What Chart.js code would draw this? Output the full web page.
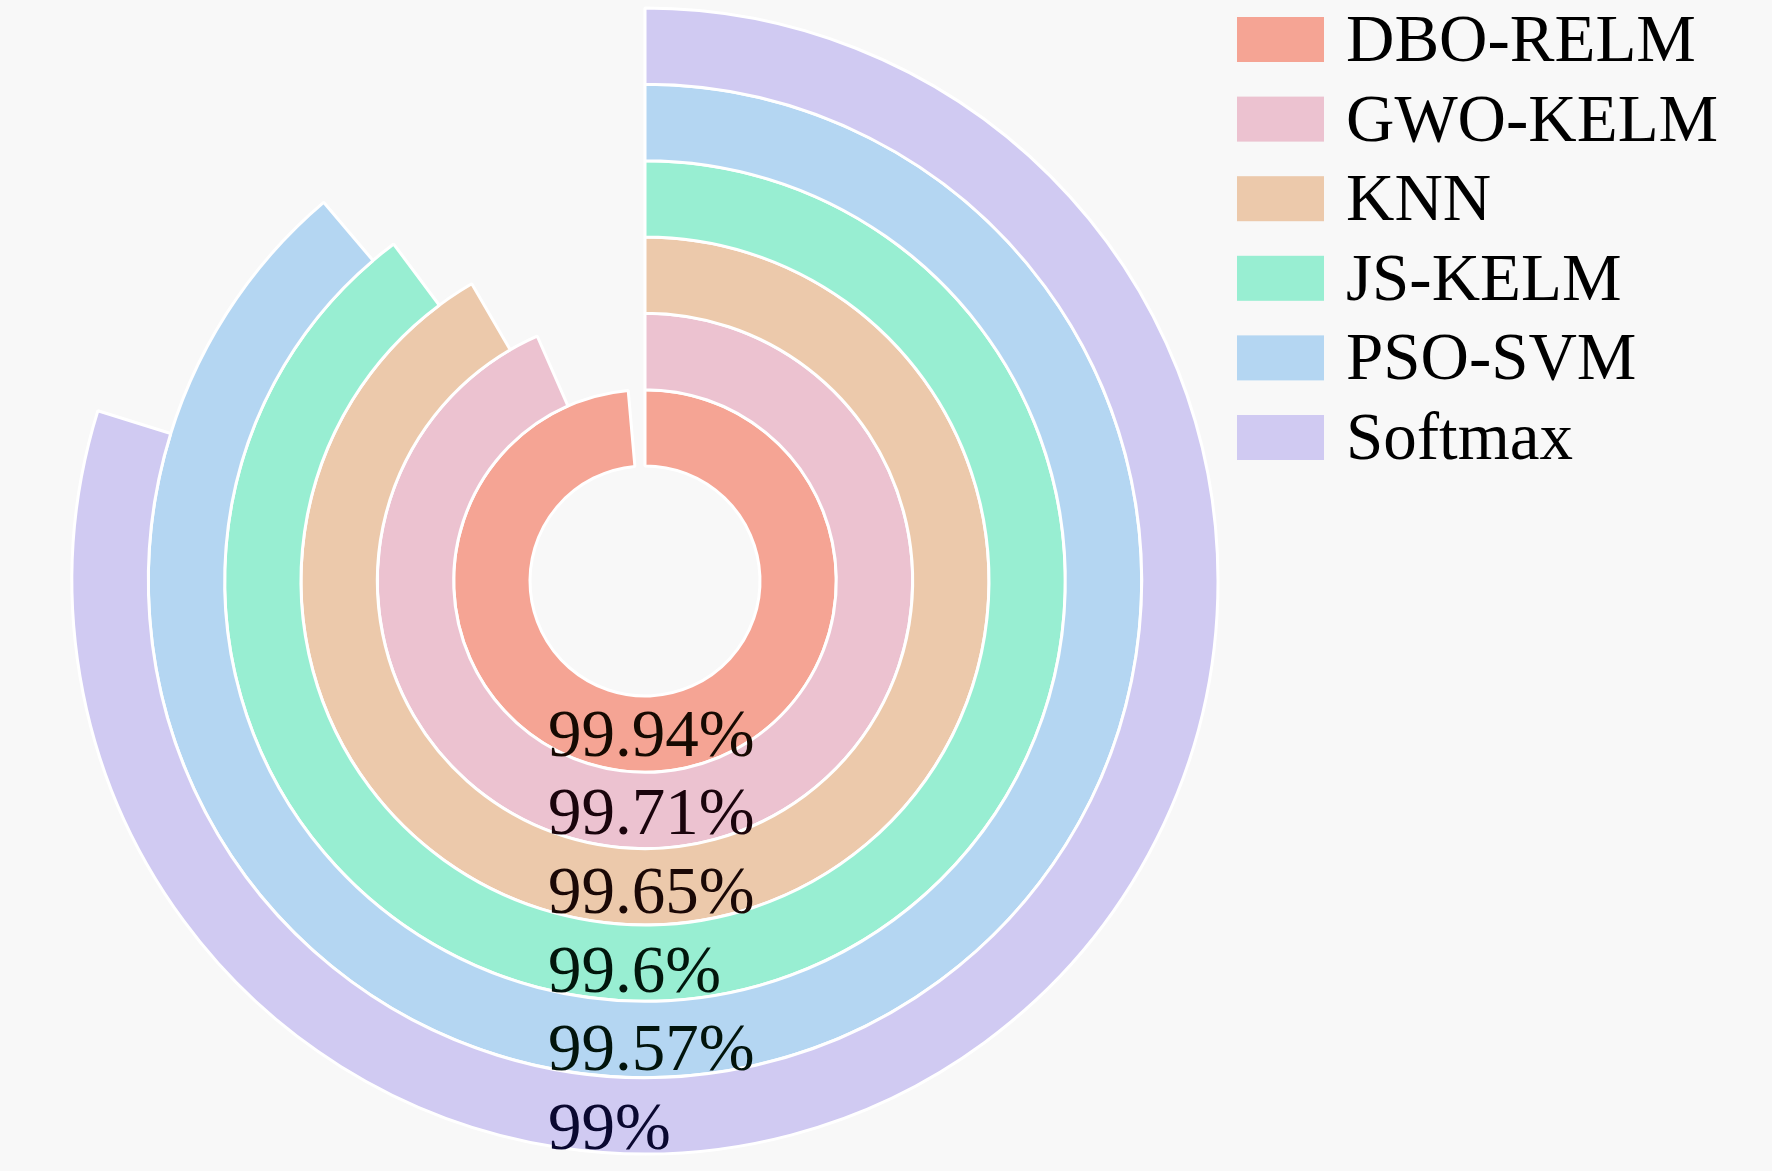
<!DOCTYPE html>
<html>
<head>
<meta charset="utf-8">
<script src="https://cdn.jsdelivr.net/npm/chart.js@4/dist/chart.umd.min.js"></script>
<style>
  html, body { margin: 0; padding: 0; background: #f8f8f8; }
  #wrap { width: 1772px; height: 1171px; }
</style>
</head>
<body>
<div id="wrap"><canvas id="ringChart" width="1772" height="1171"></canvas></div>
<script>
// モデル名（凡例の順番、内側 → 外側）
const models = ['DBO-RELM', 'GWO-KELM', 'KNN', 'JS-KELM', 'PSO-SVM', 'Softmax'];
// リング下部に表示される精度ラベル
const accuracyLabels = ['99.94%', '99.71%', '99.65%', '99.6%', '99.57%', '99%'];
// 円弧の長さとして描かれている値（角度軸 95〜100%）
const arcValues = [99.93, 99.67, 99.58, 99.49, 99.44, 98.99];
const axisMin = 95;
const axisMax = 100;

const ringColors = ['#F5A494', '#ECC2D0', '#ECC9AB', '#98EED2', '#B4D6F2', '#D0CAF2'];
const textColors = ['#160a02', '#1a040c', '#1a0806', '#02160c', '#02140c', '#0a0830'];

const FONT = '67px "Liberation Serif", "Times New Roman", serif';

// Chart.js のドーナツは最初のデータセットが外側なので逆順に並べる
const datasets = models.map((name, i) => ({
  label: name,
  data: [arcValues[i] - axisMin, axisMax - arcValues[i]],
  backgroundColor: [ringColors[i], 'rgba(0,0,0,0)'],
  borderColor: ['#ffffff', 'rgba(0,0,0,0)'],
  borderWidth: [3, 0],
  hoverOffset: 0,
  valueLabel: accuracyLabels[i],
  labelColor: textColors[i]
})).reverse();

// 精度ラベルと凡例を描画
const ringLabels = {
  id: 'ringLabels',
  afterDatasetsDraw(chart) {
    const ctx = chart.ctx;
    ctx.save();
    ctx.font = FONT;
    ctx.textAlign = 'left';
    ctx.textBaseline = 'alphabetic';
    chart.data.datasets.forEach((ds, i) => {
      const arc = chart.getDatasetMeta(i).data[0];
      const r = (arc.innerRadius + arc.outerRadius) / 2;
      ctx.fillStyle = ds.labelColor;
      ctx.fillText(ds.valueLabel, arc.x - 97, arc.y + r * 1.03 + 17);
    });

    // 凡例（右上）
    models.forEach((name, i) => {
      const top = 17 + i * 79.6;
      ctx.fillStyle = ringColors[i];
      ctx.fillRect(1237, top, 87, 45);
      ctx.fillStyle = '#000000';
      ctx.fillText(name, 1346, top + 44);
    });
    ctx.restore();
  }
};

new Chart(document.getElementById('ringChart'), {
  type: 'doughnut',
  data: {
    labels: ['value', 'rest'],
    datasets: datasets
  },
  options: {
    responsive: false,
    devicePixelRatio: 1,
    animation: false,
    events: [],
    cutout: '20.07%',
    rotation: 0,
    circumference: 360,
    layout: {
      padding: { left: 70.5, top: 6.5, right: 552.5, bottom: 15.5 }
    },
    plugins: {
      legend: { display: false },
      tooltip: { enabled: false },
      title: { display: false }
    }
  },
  plugins: [ringLabels]
});
</script>
</body>
</html>
